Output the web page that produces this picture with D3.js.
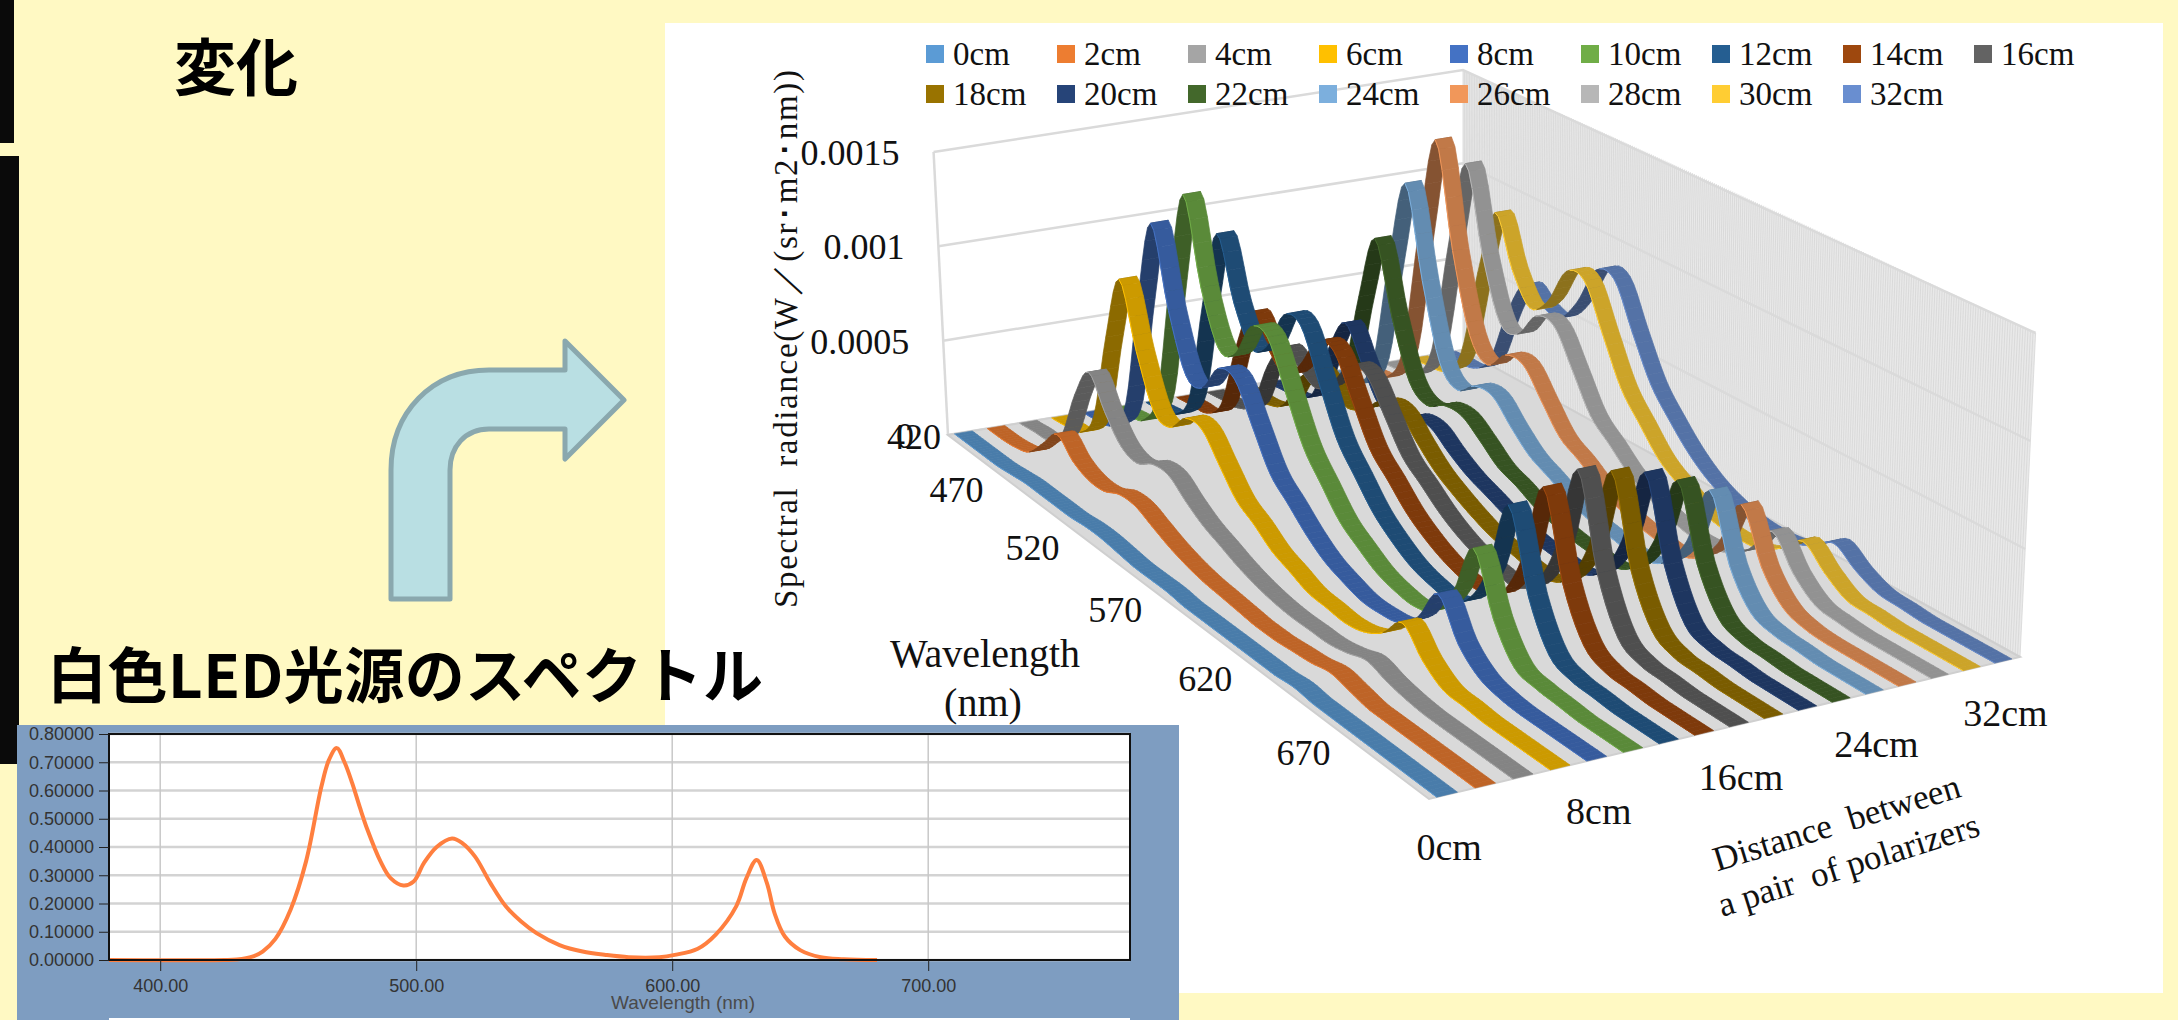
<!DOCTYPE html>
<html>
<head>
<meta charset="utf-8">
<script src="https://cdn.jsdelivr.net/npm/d3@7"></script>
<style>
  html, body { margin: 0; padding: 0; background: #FFF9C3; }
  svg { display: block; }
  text { white-space: pre; }
</style>
</head>
<body>
<div id="chart"></div>
<script>
// wavelengths of the readings in the 3D chart (nm)
const wavelengths = [420,430,440,450,460,470,480,490,500,510,520,530,540,550,560,570,580,590,600,610,620,630,640,650,660,670,680,690,700]

// spectral radiance, in units of 0.00001 W/(sr m2 nm), one list per distance
const cm0  = [0,0,0,0,1,2,2,2,2,3,3,2,1,1,1,0,0,0,0,0,0,1,0,0,0,0,0,0,0]
const cm2  = [0,0,1,4,14,24,16,12,12,16,16,12,8,5,3,2,1,0,0,1,2,4,2,0,0,0,0,0,0]
const cm4  = [0,1,2,10,36,53,38,26,23,28,28,21,15,11,7,4,2,1,1,1,3,6,3,1,0,0,0,0,0]
const cm6  = [0,1,3,17,63,98,66,41,38,48,48,36,24,18,11,7,3,2,1,3,9,20,9,2,1,0,0,0,0]
const cm8  = [0,1,4,21,79,124,84,56,55,70,70,52,34,25,16,9,5,2,2,4,13,30,13,4,1,0,0,0,0]
const cm10 = [0,1,4,23,86,136,93,67,69,88,88,66,44,31,19,12,6,3,2,6,21,48,21,5,2,1,0,0,0]
const cm12 = [0,1,4,19,72,113,82,64,70,91,91,68,45,32,20,12,6,3,2,8,28,65,28,7,2,1,0,0,0]
const cm14 = [0,1,2,12,46,70,57,48,58,75,75,56,37,27,17,10,5,2,2,8,30,70,30,8,2,1,0,0,0]
const cm16 = [0,1,2,9,34,49,43,38,46,60,60,45,30,22,14,8,4,2,1,9,32,75,32,8,2,1,0,0,0]
const cm18 = [0,0,1,6,24,35,30,25,30,39,39,29,20,14,9,5,3,1,1,8,30,71,30,8,2,1,0,0,0]
const cm20 = [0,1,2,10,38,56,40,24,22,28,28,21,15,11,7,4,2,1,1,8,29,67,29,7,2,1,0,0,0]
const cm22 = [0,1,3,17,62,97,61,33,26,31,31,24,16,12,7,4,2,1,1,7,26,60,26,7,2,1,0,0,0]
const cm24 = [0,1,4,21,78,123,77,40,31,38,38,28,19,14,9,5,3,1,1,6,22,52,22,6,2,1,0,0,0]
const cm26 = [0,2,5,24,90,143,90,51,41,51,51,38,25,19,12,7,4,2,1,5,18,42,18,5,1,0,0,0,0]
const cm28 = [0,1,4,22,81,128,85,55,54,68,68,51,33,24,15,9,5,2,2,4,12,26,12,3,1,0,0,0,0]
const cm30 = [0,1,3,17,64,100,75,60,68,88,88,66,44,31,19,12,6,3,2,3,9,18,9,2,1,0,0,0,0]
const cm32 = [0,1,2,11,40,60,54,52,65,86,86,64,43,30,19,11,6,3,2,3,7,14,7,2,1,0,0,0,0]
const seriesValues = [cm0,cm2,cm4,cm6,cm8,cm10,cm12,cm14,cm16,cm18,cm20,cm22,cm24,cm26,cm28,cm30,cm32]

const distances = ['0cm','2cm','4cm','6cm','8cm','10cm','12cm','14cm','16cm','18cm','20cm','22cm','24cm','26cm','28cm','30cm','32cm']
const seriesColors = ['#5B9BD5','#ED7D31','#A5A5A5','#FFC000','#4472C4','#70AD47','#255E91','#9E480E','#636363','#997300','#264478','#43682B','#7CAFDD','#F1975A','#B7B7B7','#FFCD33','#698ED0']
const radianceTicks = [0, 50, 100, 150]
const radianceLabels = ['0', '0.0005', '0.001', '0.0015']
const wavelengthTicks = [420, 470, 520, 570, 620, 670]
const distanceTicks = ['0cm', '8cm', '16cm', '24cm', '32cm']

// white LED spectrum, the small chart
const ledWavelengths = [380,425,430,436,440,445,451,457,463,466,469,472,475,478,481,486,490,495,499,503,508,514,518,523,529,535,541,547,556,565,574,583,595,601,610,617,625,629,633,637,640,644,650,658,667,680,780]
const ledValues = [0,0,0.002,0.012,0.03,0.075,0.18,0.35,0.615,0.71,0.75,0.70,0.626,0.54,0.46,0.35,0.29,0.264,0.278,0.343,0.40,0.43,0.414,0.366,0.272,0.19,0.136,0.095,0.053,0.03,0.018,0.01,0.01,0.018,0.04,0.09,0.19,0.29,0.354,0.272,0.165,0.083,0.035,0.01,0.003,0,0]
const ledXTicks = [400, 500, 600, 700]
const ledYTicks = [0, 0.1, 0.2, 0.3, 0.4, 0.5, 0.6, 0.7, 0.8]

const svg = d3.select('#chart').append('svg')
  .attr('width', 2178)
  .attr('height', 1020)

const serif = '"Liberation Serif", "Times New Roman", serif'
const jp = '"Noto Sans CJK JP", sans-serif'

svg.append('rect').attr('width', 2178).attr('height', 1020).attr('fill', '#FFF9C3')
svg.append('rect').attr('x', 0).attr('y', 0).attr('width', 14).attr('height', 143).attr('fill', '#0a0a0a')
svg.append('rect').attr('x', 0).attr('y', 156).attr('width', 19).attr('height', 608).attr('fill', '#0a0a0a')
svg.append('rect').attr('x', 665).attr('y', 23).attr('width', 1498).attr('height', 970).attr('fill', '#fff')

// floor of the 3D chart, corners as seen on screen
const floor = { backLeft: [948, 435], backRight: [1463, 350], frontRight: [2020, 657], frontLeft: [1429, 799] }
const wallHeight = { backLeft: 283, backRight: 280, frontRight: 324, frontLeft: 335 }

const homography = (function () {
  const [x0, y0] = floor.backLeft, [x1, y1] = floor.backRight, [x2, y2] = floor.frontRight, [x3, y3] = floor.frontLeft
  const dx1 = x1 - x2, dx2 = x3 - x2, sx = x0 - x1 + x2 - x3
  const dy1 = y1 - y2, dy2 = y3 - y2, sy = y0 - y1 + y2 - y3
  const den = dx1 * dy2 - dx2 * dy1
  const g = (sx * dy2 - dx2 * sy) / den
  const h = (dx1 * sy - sx * dy1) / den
  return { a: x1 - x0 + g * x1, b: x3 - x0 + h * x3, c: x0, d: y1 - y0 + g * y1, e: y3 - y0 + h * y3, f: y0, g, h }
})()

const u = d3.scaleBand().domain(distances).range([0, 1])
const v = d3.scaleLinear().domain([420, 700]).range([0, 1])
const z = d3.scaleLinear().domain([0, 150]).range([0, 1])

// u across the distances, v along the wavelengths, t up the wall (all 0..1)
function project(uu, vv, t) {
  const H = homography
  const w = H.g * uu + H.h * vv + 1
  const x = (H.a * uu + H.b * vv + H.c) / w
  const y = (H.d * uu + H.e * vv + H.f) / w
  const full = wallHeight.backLeft * (1 - uu) * (1 - vv) + wallHeight.backRight * uu * (1 - vv)
    + wallHeight.frontRight * uu * vv + wallHeight.frontLeft * (1 - uu) * vv
  return [x + (x - 1463) * 0.028 * t, y - full * t]
}

const chart3d = svg.append('g')

// back left wall
chart3d.append('polygon')
  .attr('points', [project(0, 0, 0), project(0, 0, 1), project(1, 0, 1), project(1, 0, 0)].join(' '))
  .attr('fill', '#fff')

// right wall, one thin line per nm gives the striped look
chart3d.append('polygon')
  .attr('points', [project(1, 0, 0), project(1, 0, 1), project(1, 1, 1), project(1, 1, 0)].join(' '))
  .attr('fill', '#E9E9E9')
chart3d.selectAll('line.stripe')
  .data(d3.range(420, 701))
  .enter()
  .append('line')
  .attr('class', 'stripe')
  .attr('x1', d => project(1, v(d), 0)[0])
  .attr('y1', d => project(1, v(d), 0)[1])
  .attr('x2', d => project(1, v(d), 1)[0])
  .attr('y2', d => project(1, v(d), 1)[1])
  .attr('stroke', '#D6D6D6')
  .attr('stroke-width', 0.8)

chart3d.selectAll('path.grid')
  .data(radianceTicks)
  .enter()
  .append('path')
  .attr('class', 'grid')
  .attr('d', d => d3.line()([project(0, 0, z(d)), project(1, 0, z(d)), project(1, 1, z(d))]))
  .attr('fill', 'none')
  .attr('stroke', '#DADADA')
  .attr('stroke-width', 2.5)

chart3d.append('line')
  .attr('x1', project(0, 0, 0)[0]).attr('y1', project(0, 0, 0)[1])
  .attr('x2', project(0, 0, 1)[0]).attr('y2', project(0, 0, 1)[1])
  .attr('stroke', '#DADADA').attr('stroke-width', 2.5)

chart3d.append('polygon')
  .attr('points', [project(0, 0, 0), project(1, 0, 0), project(1, 1, 0), project(0, 1, 0)].join(' '))
  .attr('fill', '#D9D9D9')
  .attr('stroke', '#CFCFCF')
  .attr('stroke-width', 2)

// catmull-rom between the readings, so the ribbons are drawn as curves
function smooth(values) {
  const out = []
  const steps = 5
  values.forEach((p1, i) => {
    if (i === values.length - 1) { out.push({ wl: wavelengths[i], val: p1 }); return }
    const p0 = values[Math.max(i - 1, 0)]
    const p2 = values[i + 1]
    const p3 = values[Math.min(i + 2, values.length - 1)]
    for (let s = 0; s < steps; s++) {
      const t = s / steps
      const val = 0.5 * (2 * p1 + (p2 - p0) * t + (2 * p0 - 5 * p1 + 4 * p2 - p3) * t * t + (3 * p1 - p0 - 3 * p2 + p3) * t * t * t)
      out.push({ wl: wavelengths[i] + (wavelengths[i + 1] - wavelengths[i]) * t, val: Math.max(val, 0) })
    }
  })
  return out
}

// one small quad per step, painted far to near
const slot = u.bandwidth()
const quads = []
seriesValues.forEach((values, i) => {
  const u0 = u(distances[i]) + slot * 0.2
  const u1 = u(distances[i]) + slot * 0.74
  const pts = smooth(values)
  d3.pairs(pts).forEach(([a, b]) => {
    const corners = [
      project(u0, v(a.wl), z(a.val)),
      project(u1, v(a.wl), z(a.val)),
      project(u1, v(b.wl), z(b.val)),
      project(u0, v(b.wl), z(b.val))
    ]
    quads.push({
      series: i,
      corners: corners,
      depth: project((u0 + u1) / 2, v((a.wl + b.wl) / 2), 0)[1],
      flipped: d3.polygonArea(corners) > 0
    })
  })
})
quads.sort((a, b) => d3.ascending(a.depth, b.depth))

function shade(color, f) {
  return d3.interpolateRgb('#000', color)(f)
}

const ribbons = chart3d.append('g').selectAll('g')
  .data(quads)
  .enter()
  .append('g')
ribbons.append('path')
  .attr('d', d => d3.line()(d.corners) + 'Z')
  .attr('fill', d => shade(seriesColors[d.series], d.flipped ? 0.55 : 0.8))
  .attr('stroke', d => shade(seriesColors[d.series], d.flipped ? 0.55 : 0.8))
  .attr('stroke-width', 0.7)
// light rim on the near side of the strip
ribbons.filter(d => !d.flipped).append('path')
  .attr('d', d => d3.line()([d.corners[0], d.corners[3]]))
  .attr('fill', 'none')
  .attr('stroke', d => seriesColors[d.series])
  .attr('stroke-width', 1)

// y axis labels of the 3D chart
const labels3d = svg.append('g').attr('font-family', serif).attr('fill', '#111')

labels3d.selectAll('text.rad')
  .data(radianceTicks)
  .enter()
  .append('text')
  .attr('class', 'rad')
  .attr('x', d => project(0, 0, z(d))[0] - 34)
  .attr('y', d => project(0, 0, z(d))[1] + 13)
  .attr('text-anchor', 'end')
  .attr('font-size', 36)
  .text((d, i) => radianceLabels[i])

labels3d.selectAll('text.wl')
  .data(wavelengthTicks)
  .enter()
  .append('text')
  .attr('class', 'wl')
  .attr('x', (d, i) => project(0, v(d), 0)[0] + (i === 0 ? -34 : -62))
  .attr('y', d => project(0, v(d), 0)[1] + 14)
  .attr('text-anchor', 'middle')
  .attr('font-size', 36)
  .text(d => d)

labels3d.selectAll('text.dist')
  .data(distanceTicks)
  .enter()
  .append('text')
  .attr('class', 'dist')
  .attr('x', d => project(u(d) + slot * 0.47, 1, 0)[0] + 2)
  .attr('y', d => project(u(d) + slot * 0.47, 1, 0)[1] + 65)
  .attr('text-anchor', 'middle')
  .attr('font-size', 38)
  .text(d => d)

labels3d.append('text')
  .attr('transform', 'translate(797, 339) rotate(-90)')
  .attr('text-anchor', 'middle')
  .attr('font-size', 33)
  .attr('textLength', 538)
  .text('Spectral  radiance(W／(sr･m2･nm))')

labels3d.append('text').attr('x', 985).attr('y', 667).attr('text-anchor', 'middle').attr('font-size', 40).text('Wavelength')
labels3d.append('text').attr('x', 983).attr('y', 716).attr('text-anchor', 'middle').attr('font-size', 40).text('(nm)')

labels3d.append('text')
  .attr('transform', 'translate(1840, 834) rotate(-17)')
  .attr('text-anchor', 'middle')
  .attr('font-size', 35)
  .text('Distance  between')
labels3d.append('text')
  .attr('transform', 'translate(1852, 876) rotate(-17.5)')
  .attr('text-anchor', 'middle')
  .attr('font-size', 35)
  .text('a pair  of polarizers')

// legend, two rows
const legendX = d3.scaleLinear().domain([0, 1]).range([926, 1057])
const legendY = d3.scaleLinear().domain([0, 1]).range([54, 94])
const legend = svg.append('g')
  .selectAll('g')
  .data(distances)
  .enter()
  .append('g')
  .attr('transform', (d, i) => `translate(${legendX(i % 9)}, ${legendY(Math.floor(i / 9))})`)
legend.append('rect')
  .attr('x', 0).attr('y', -9).attr('width', 18).attr('height', 18)
  .attr('fill', (d, i) => seriesColors[i])
legend.append('text')
  .attr('x', 27)
  .attr('y', 11)
  .attr('font-family', serif)
  .attr('font-size', 33)
  .attr('fill', '#111')
  .text(d => d)

// bent arrow, just a drawing on the slide
svg.append('path')
  .attr('d', 'M391,599 V470 C391,412 432,370 489,370 H565 V341 L624,400 L565,459 V429 H489 C465,429 450,447 450,470 V599 Z')
  .attr('fill', '#B9DFE3')
  .attr('stroke', '#8AA8AE')
  .attr('stroke-width', 5)
  .attr('stroke-linejoin', 'round')

// slide titles
svg.append('text').attr('x', 236).attr('y', 91).attr('text-anchor', 'middle')
  .attr('font-family', jp).attr('font-weight', 700).attr('font-size', 62).attr('fill', '#000')
  .text('変化')
svg.append('text').attr('x', 47).attr('y', 698)
  .attr('font-family', jp).attr('font-weight', 700).attr('font-size', 60).attr('fill', '#000')
  .attr('textLength', 716)
  .text('白色LED光源のスペクトル')

// small LED chart
svg.append('rect').attr('x', 17).attr('y', 725).attr('width', 1162).attr('height', 295).attr('fill', '#7E9DC1')
svg.append('rect').attr('x', 109).attr('y', 1018).attr('width', 1021).attr('height', 2).attr('fill', '#fff')

const ledX = d3.scaleLinear().domain([380, 780]).range([109, 1133])
const ledY = d3.scaleLinear().domain([0, 0.8]).range([960, 734])

svg.append('rect').attr('x', 109).attr('y', 734).attr('width', 1021).attr('height', 226).attr('fill', '#fff')

svg.append('g').selectAll('line')
  .data(ledYTicks)
  .enter()
  .append('line')
  .attr('x1', 109).attr('x2', 1130)
  .attr('y1', d => ledY(d)).attr('y2', d => ledY(d))
  .attr('stroke', '#D3D3D3').attr('stroke-width', 2.5)

svg.append('g').selectAll('line')
  .data(ledXTicks)
  .enter()
  .append('line')
  .attr('x1', d => ledX(d)).attr('x2', d => ledX(d))
  .attr('y1', 734).attr('y2', 960)
  .attr('stroke', '#C8C8C8').attr('stroke-width', 1.5)

const ledPoints = ledWavelengths.map((d, i) => [ledX(d), ledY(ledValues[i])])
svg.append('path')
  .attr('d', d3.line().curve(d3.curveCatmullRom.alpha(0.5))(ledPoints.filter(p => p[0] <= 1130)))
  .attr('fill', 'none')
  .attr('stroke', '#FF7F3F')
  .attr('stroke-width', 4)

svg.append('rect').attr('x', 109).attr('y', 734).attr('width', 1021).attr('height', 226)
  .attr('fill', 'none').attr('stroke', '#111').attr('stroke-width', 2)

const xAxis = svg.append('g')
  .attr('transform', 'translate(0, 960)')
  .call(d3.axisBottom(ledX).tickValues(ledXTicks).tickFormat(d3.format('.2f')).tickSize(11).tickPadding(8))
const yAxis = svg.append('g')
  .attr('transform', 'translate(109, 0)')
  .call(d3.axisLeft(ledY).tickValues(ledYTicks).tickFormat(d3.format('.5f')).tickSize(10).tickPadding(5))
xAxis.select('.domain').remove()
yAxis.select('.domain').remove()
svg.selectAll('.tick text')
  .attr('font-family', '"Liberation Sans", Arial, sans-serif')
  .attr('font-size', 18)
  .attr('fill', '#333')
svg.selectAll('.tick line').attr('stroke', '#222')

svg.append('text')
  .attr('x', 683).attr('y', 1009).attr('text-anchor', 'middle')
  .attr('font-family', '"Liberation Sans", Arial, sans-serif')
  .attr('font-size', 19).attr('fill', '#4a4a4a')
  .text('Wavelength (nm)')
</script>
</body>
</html>
